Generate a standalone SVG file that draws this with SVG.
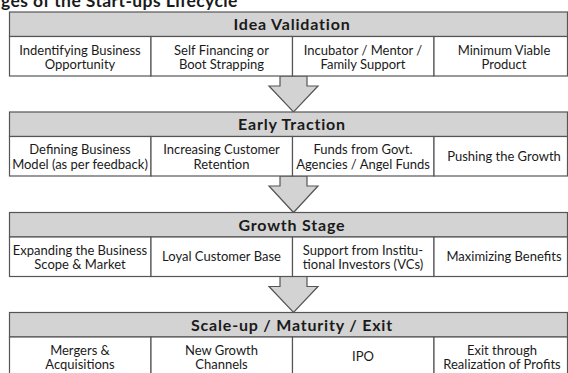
<svg xmlns="http://www.w3.org/2000/svg" width="568" height="373" viewBox="0 0 568 373">
<style>
.hdr{fill:#d3d3d3;stroke:#555;stroke-width:1.2}
.cell{fill:#fff;stroke:#555;stroke-width:1.2}
.ht{font-family:Lato,"Open Sans",sans-serif;font-weight:bold;font-size:16px;letter-spacing:0.8px;fill:#1a1a1a;text-anchor:middle}
.ct{font-family:Lato,"Open Sans",sans-serif;font-size:13px;fill:#1a1a1a;text-anchor:middle}
.title{font-family:Lato,"Open Sans",sans-serif;font-weight:bold;font-size:17.5px;letter-spacing:0.4px;fill:#1a1a1a}
.arr{fill:#d3d3d3;stroke:#555;stroke-width:1.2;stroke-linejoin:miter}
</style>
<text class="title" x="1" y="6.5">ges of the Start-ups Lifecycle</text>

<g id="connectors">
<polygon class="arr" points="280,76 307,76 307,86 318,86 293.5,112 269,86 280,86"/>
<polygon class="arr" points="280,176 307,176 307,186 318,186 293.5,212.5 269,186 280,186"/>
<polygon class="arr" points="280,276.5 307,276.5 307,286.5 318,286.5 293.5,312.5 269,286.5 280,286.5"/>
</g>

<!-- Stage 1 -->
<g id="stage1">
<rect class="hdr" x="9.5" y="12" width="558" height="24.5"/>
<text class="ht" x="292" y="30">Idea Validation</text>
</g>
<g id="s1c1"><rect class="cell" x="9.5" y="36.5" width="141.5" height="39.5"/><text class="ct" x="80" y="54.5">Indentifying Business</text><text class="ct" x="80" y="69">Opportunity</text></g>
<g id="s1c2"><rect class="cell" x="151" y="36.5" width="141.5" height="39.5"/><text class="ct" x="221.5" y="54.5">Self Financing or</text><text class="ct" x="221.5" y="69">Boot Strapping</text></g>
<g id="s1c3"><rect class="cell" x="292.5" y="36.5" width="141.5" height="39.5"/><text class="ct" x="363" y="54.5">Incubator / Mentor /</text><text class="ct" x="363" y="69">Family Support</text></g>
<g id="s1c4"><rect class="cell" x="434" y="36.5" width="133.5" height="39.5"/><text class="ct" x="504" y="54.5">Minimum Viable</text><text class="ct" x="504" y="69">Product</text></g>

<!-- Stage 2 -->
<g id="stage2">
<rect class="hdr" x="9.5" y="112" width="558" height="24.5"/>
<text class="ht" x="292" y="130">Early Traction</text>
</g>
<g id="s2c1"><rect class="cell" x="9.5" y="136.5" width="141.5" height="39.5"/><text class="ct" x="80" y="154">Defining Business</text><text class="ct" x="80" y="168.5">Model (as per feedback)</text></g>
<g id="s2c2"><rect class="cell" x="151" y="136.5" width="141.5" height="39.5"/><text class="ct" x="221.5" y="154">Increasing Customer</text><text class="ct" x="221.5" y="168.5">Retention</text></g>
<g id="s2c3"><rect class="cell" x="292.5" y="136.5" width="141.5" height="39.5"/><text class="ct" x="363" y="154">Funds from Govt.</text><text class="ct" x="363" y="168.5">Agencies / Angel Funds</text></g>
<g id="s2c4"><rect class="cell" x="434" y="136.5" width="133.5" height="39.5"/><text class="ct" x="504" y="160.5">Pushing the Growth</text></g>

<!-- Stage 3 -->
<g id="stage3">
<rect class="hdr" x="9.5" y="212.5" width="558" height="24.5"/>
<text class="ht" x="292" y="230.5">Growth Stage</text>
</g>
<g id="s3c1"><rect class="cell" x="9.5" y="237" width="141.5" height="39.5"/><text class="ct" x="80" y="254.5">Expanding the Business</text><text class="ct" x="80" y="269">Scope &amp; Market</text></g>
<g id="s3c2"><rect class="cell" x="151" y="237" width="141.5" height="39.5"/><text class="ct" x="221.5" y="261">Loyal Customer Base</text></g>
<g id="s3c3"><rect class="cell" x="292.5" y="237" width="141.5" height="39.5"/><text class="ct" x="363" y="254.5">Support from Institu-</text><text class="ct" x="363" y="269">tional Investors (VCs)</text></g>
<g id="s3c4"><rect class="cell" x="434" y="237" width="133.5" height="39.5"/><text class="ct" x="504" y="261">Maximizing Benefits</text></g>

<!-- Stage 4 -->
<g id="stage4">
<rect class="hdr" x="9.5" y="312.5" width="558" height="24.5"/>
<text class="ht" x="292" y="330.5">Scale-up / Maturity / Exit</text>
</g>
<g id="s4c1"><rect class="cell" x="9.5" y="337" width="141.5" height="39.5"/><text class="ct" x="80" y="354.5">Mergers &amp;</text><text class="ct" x="80" y="369">Acquisitions</text></g>
<g id="s4c2"><rect class="cell" x="151" y="337" width="141.5" height="39.5"/><text class="ct" x="221.5" y="354.5">New Growth</text><text class="ct" x="221.5" y="369">Channels</text></g>
<g id="s4c3"><rect class="cell" x="292.5" y="337" width="141.5" height="39.5"/><text class="ct" x="363" y="361">IPO</text></g>
<g id="s4c4"><rect class="cell" x="434" y="337" width="133.5" height="39.5"/><text class="ct" x="502" y="354.5">Exit through</text><text class="ct" x="502" y="369">Realization of Profits</text></g>
</svg>
